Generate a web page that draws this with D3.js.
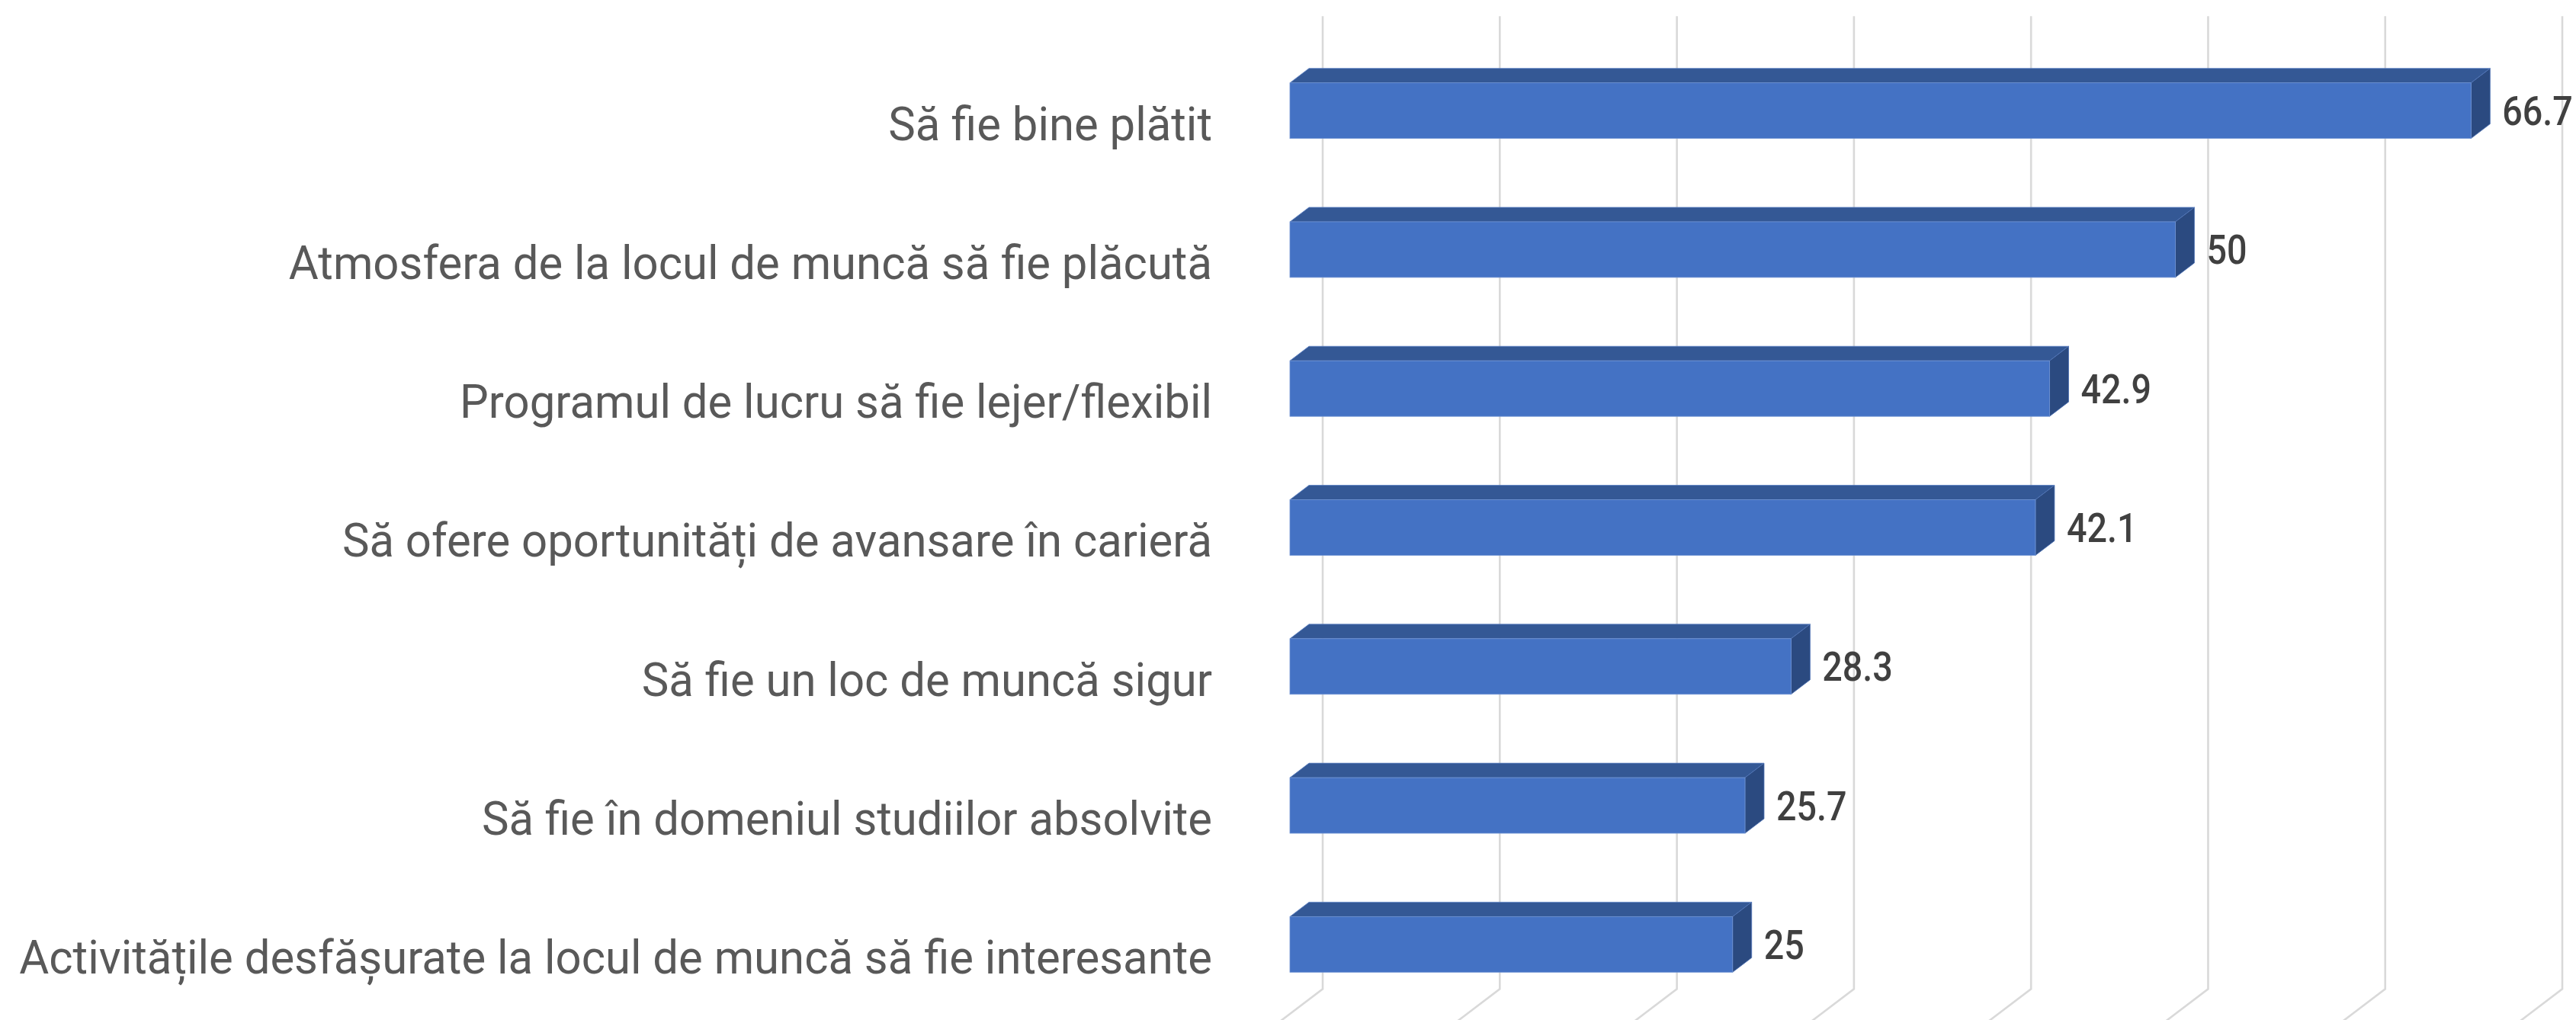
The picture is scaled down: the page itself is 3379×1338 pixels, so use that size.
<!DOCTYPE html>
<html>
<head>
<meta charset="utf-8">
<script src="https://cdn.jsdelivr.net/npm/d3@7"></script>
<style>
  html, body { margin: 0; padding: 0; background: #ffffff; overflow: hidden; }
  svg { display: block; }
</style>
</head>
<body>
<svg id="chart" width="3379" height="1338"></svg>
<script>
// ---- data ----
const categories = [
  "Să fie bine plătit",
  "Atmosfera de la locul de muncă să fie plăcută",
  "Programul de lucru să fie lejer/flexibil",
  "Să ofere oportunități de avansare în carieră",
  "Să fie un loc de muncă sigur",
  "Să fie în domeniul studiilor absolvite",
  "Activitățile desfășurate la locul de muncă să fie interesante"
];
const values = [66.7, 50, 42.9, 42.1, 28.3, 25.7, 25];
const valueLabels = ["66.7", "50", "42.9", "42.1", "28.3", "25.7", "25"];
const axisDomain = [0, 70];

// ---- layout ----
const W = 3379, H = 1338;
const svg = d3.select("#chart");

const x = d3.scaleLinear().domain(axisDomain).range([1692, 3318]);
const y = d3.scaleBand().domain(categories).range([54, 1330])
  .paddingInner(0.6).paddingOuter(0.3);

const slope = 25 / 19;           // oblique depth direction (dx per -dy)
const barDepth = 19;             // vertical depth of bars
const wallDepth = 32.7;          // depth of the back wall
const floorFrontY = y.range()[1];
const wallTop = y.range()[0] - wallDepth;
const wallBottom = floorFrontY - wallDepth;
const wallDx = wallDepth * slope;
const barDx = barDepth * slope;

// ---- gridlines (back wall + floor) ----
const grid = svg.append("g").attr("class", "grid");
const ticks = x.ticks(7);
grid.selectAll("path").data(ticks).join("path")
  .attr("d", v => {
    const xb = x(v) + wallDx;
    const ext = 20;
    return `M${xb},${wallTop} L${xb},${wallBottom} L${x(v)},${floorFrontY} L${x(v) - ext * slope},${floorFrontY + ext}`;
  })
  .attr("fill", "none")
  .attr("stroke", "#d9d9d9")
  .attr("stroke-width", 2.6);

// ---- bars ----
const data = categories.map((c, i) => ({ c, v: values[i], label: valueLabels[i] }));
const bars = svg.append("g").attr("class", "bars");
const bar = bars.selectAll("g").data(data).join("g");

// top face
bar.append("path")
  .attr("d", d => {
    const xl = x(0), xr = x(d.v), yt = y(d.c);
    return `M${xl},${yt} L${xl + barDx},${yt - barDepth} L${xr + barDx},${yt - barDepth} L${xr},${yt} Z`;
  })
  .attr("fill", "#345895")
  .attr("stroke", "#5b80c4").attr("stroke-width", 0.8);

// right face
bar.append("path")
  .attr("d", d => {
    const xr = x(d.v), yt = y(d.c), yb = y(d.c) + y.bandwidth();
    return `M${xr},${yt} L${xr + barDx},${yt - barDepth} L${xr + barDx},${yb - barDepth} L${xr},${yb} Z`;
  })
  .attr("fill", "#2b4a80")
  .attr("stroke", "#4f73b6").attr("stroke-width", 0.8);

// front face
bar.append("rect")
  .attr("x", x(0))
  .attr("y", d => y(d.c))
  .attr("width", d => x(d.v) - x(0))
  .attr("height", y.bandwidth())
  .attr("fill", "#4472c4")
  .attr("stroke", "#6f93d3").attr("stroke-width", 0.8);

// value labels (slightly condensed to match the reference face)
bar.append("text")
  .attr("transform", d => `translate(${x(d.v) + barDx + 16},${y(d.c) + y.bandwidth() / 2 + 19}) scale(0.88,1)`)
  .attr("font-family", "Roboto, 'Open Sans', sans-serif")
  .attr("font-weight", 500)
  .attr("font-size", 53)
  .attr("fill", "#404040")
  .text(d => d.label);

// ---- category labels ----
const labelRight = 1590;
const catG = svg.append("g").attr("class", "cats");
const catTexts = catG.selectAll("text").data(categories).join("text")
  .attr("x", 0)
  .attr("y", c => y(c) + y.bandwidth() / 2 + 38.5)
  .attr("text-anchor", "end")
  .attr("font-family", "Roboto, 'Open Sans', sans-serif")
  .attr("font-weight", 400)
  .attr("font-size", 62)
  .attr("fill", "#595959")
  .text(c => c);

// compress horizontally so the longest label spans the same width as in the reference
let maxW = 0;
catTexts.each(function () { maxW = Math.max(maxW, this.getComputedTextLength()); });
const targetW = 1565;
const sx = maxW > 0 ? Math.min(1, targetW / maxW) : 1;
catG.attr("transform", `translate(${labelRight},0) scale(${sx},1)`);
</script>
</body>
</html>
